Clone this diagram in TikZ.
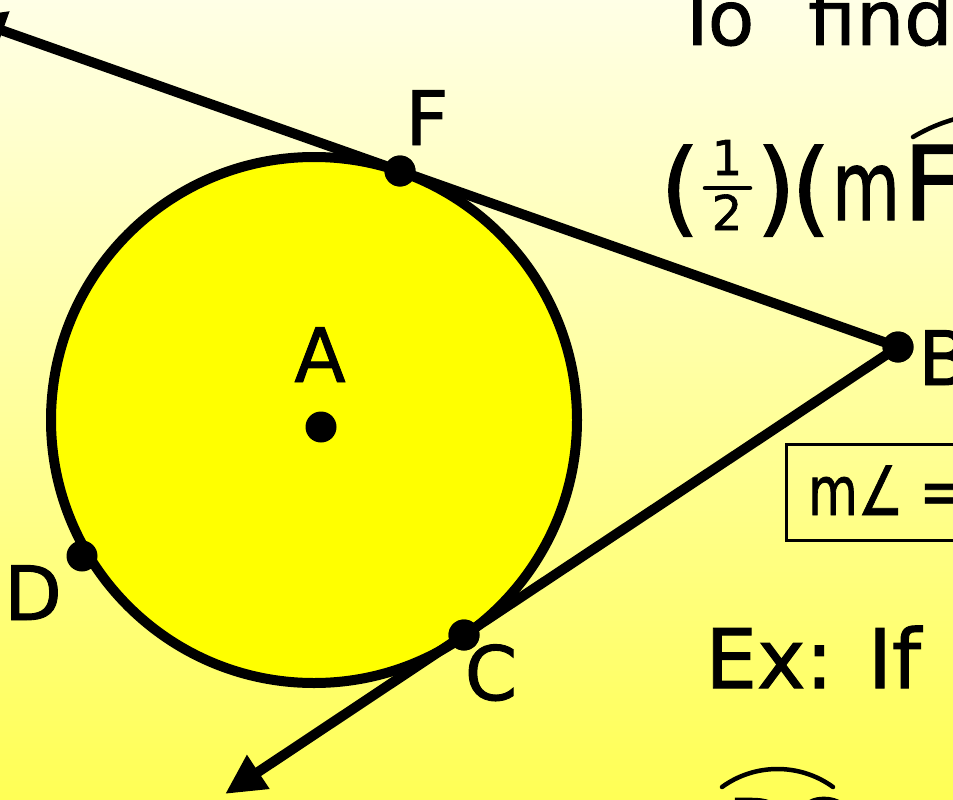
\documentclass[tikz,border=0pt]{standalone}
\usepackage{fontspec}
\setmainfont{DejaVu Sans}[FakeBold=1.2]
\usetikzlibrary{arrows.meta}
\definecolor{bgtop}{HTML}{FFFFE6}
\definecolor{bgbot}{HTML}{FFFF55}
\definecolor{disk}{HTML}{FFFF00}
\tikzset{
  pt/.style={circle, fill=black, minimum size=31pt, inner sep=0pt},
  ray/.style={line width=10pt, -{Triangle[length=40pt,width=38pt]}},
  lbl/.style={anchor=base, inner sep=0pt, font=\fontsize{75}{80}\selectfont},
  txt/.style={anchor=base west, inner sep=0pt},
  arcmark/.style={line width=4.5pt, line cap=round}
}
\begin{document}
\begin{tikzpicture}[x=1pt,y=-1pt]
\useasboundingbox (0,0) rectangle (953,800);
\clip (0,0) rectangle (953,800);
\shade[top color=bgtop, bottom color=bgbot] (0,0) rectangle (953,800);

% circle
\node[circle, draw=black, fill=disk, line width=10pt, minimum size=526pt, inner sep=0pt] (circ) at (314,420) {};

% points
\node[pt] (F) at (400,171) {};
\node[pt] (B) at (898,347) {};
\node[pt] (C) at (464,635) {};
\node[pt] (D) at (82,556) {};
\node[pt] (A) at (321,427) {};
\coordinate (tipF) at (-35,17.3);
\coordinate (tipC) at (225,794);

% rays
\draw[ray] (B.center) -- (F.center) -- (tipF);
\draw[ray] (B.center) -- (C.center) -- (tipC);
\node[pt] at (F) {};
\node[pt] at (B) {};
\node[pt] at (C) {};

% labels
\node[lbl] (lF) at (427,145) {F};
\node[lbl] (lA) at (320,382) {A};
\node[lbl] (lC) at (491,700) {C};
\node[lbl] (lD) at (33,620) {D};
\node[txt, font=\fontsize{75}{80}\selectfont] (lB) at (918,385) {B};

% top text
\node[txt, font=\fontsize{76}{80}\selectfont] (t1) at (674,45) {To};
\node[txt, font=\fontsize{76}{80}\selectfont] (t2) at (808,45) {find};

% formula line
\node[anchor=base, inner sep=0pt, font=\fontsize{103}{110}\selectfont] (p1) at (680,223) {(};
\node[anchor=base, inner sep=0pt, font=\fontsize{48}{50}\selectfont] (n1) at (727,175) {1};
\node[anchor=base, inner sep=0pt, font=\fontsize{48}{50}\selectfont] (n2) at (727,230) {2};
\draw[line width=4.5pt, line cap=round] (705,188) -- (750,188);
\node[anchor=base, inner sep=0pt, font=\fontsize{103}{110}\selectfont] (p2) at (776,223) {)};
\node[anchor=base, inner sep=0pt, font=\fontsize{103}{110}\selectfont] (p3) at (811,223) {(};
\node[anchor=base, inner sep=0pt, xscale=0.72, font=\fontsize{97}{100}\selectfont] (m1) at (866,220) {m};
\node[txt, font=\fontsize{103}{110}\selectfont] (F1) at (903,220) {F};
\draw[arcmark] (913,137) .. controls (935,124) and (960,115) .. (995,112);

% box
\node[draw=black, line width=2.5pt, anchor=north west, minimum width=260pt, minimum height=96pt, inner sep=0pt] (box) at (785,443) {};
\node[txt, xscale=0.75, font=\fontsize{68}{70}\selectfont] (bt) at (808,515) {m∠ =};

% example line
\node[txt, font=\fontsize{82}{90}\selectfont] (ex) at (705,688) {Ex: If m};

% bottom line (cut off)
\draw[arcmark] (722,787) .. controls (755,763) and (800,763) .. (833,787);
\node[txt, font=\fontsize{82}{90}\selectfont] (dc) at (727,858) {DC};
\end{tikzpicture}
\end{document}
